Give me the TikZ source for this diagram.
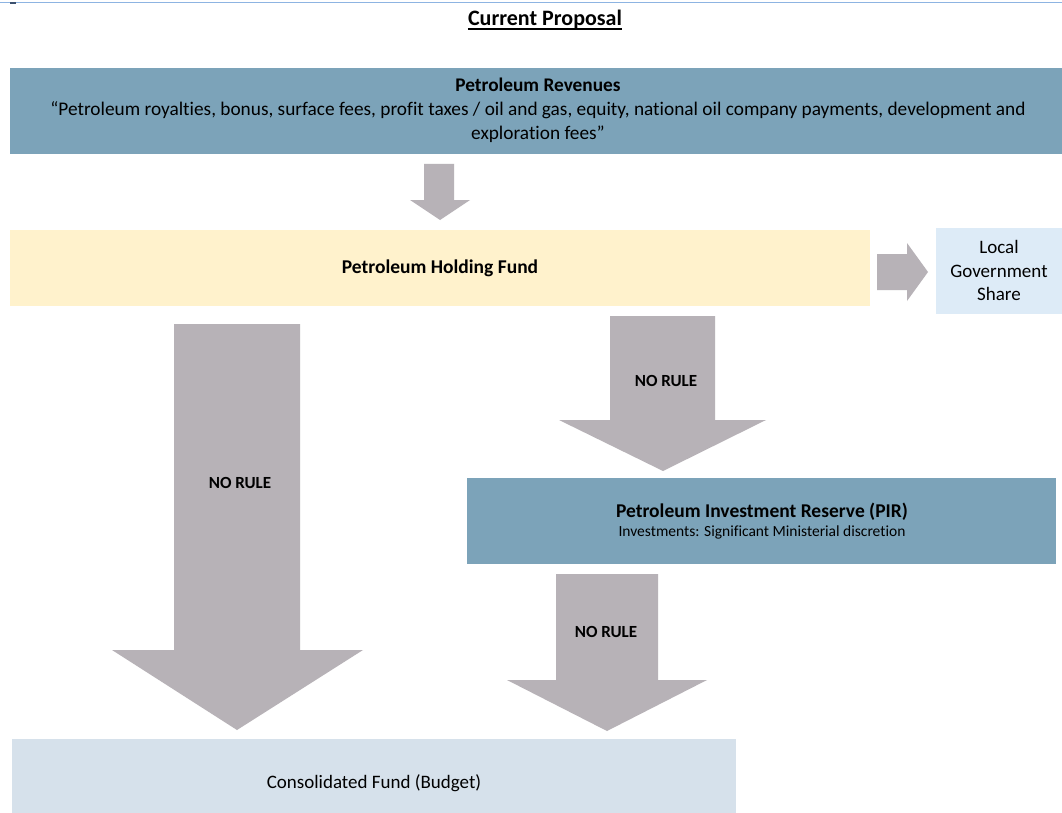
\documentclass[tikz,border=0pt]{standalone}
\usepackage{fontspec}
\setmainfont{Carlito}[Ligatures=NoCommon]
\definecolor{revblue}{RGB}{124,163,185}
\definecolor{holdyellow}{RGB}{255,242,204}
\definecolor{lgblue}{RGB}{221,235,247}
\definecolor{consblue}{RGB}{214,225,235}
\definecolor{arrowgray}{RGB}{183,178,183}
\definecolor{topline}{RGB}{141,180,226}
\definecolor{darkmark}{RGB}{60,80,110}
\begin{document}
\begin{tikzpicture}[x=1pt,y=-1pt,
  box/.style={draw=none,inner sep=0pt,outer sep=0pt,align=center},
  blockarrow/.style={fill=arrowgray,draw=none},
  lbl/.style={inner sep=0pt,font=\fontsize{17}{20}\selectfont\bfseries},
  txt/.style={inner sep=0pt,align=center}]
\useasboundingbox (0,0) rectangle (1062,813);
\fill[white] (0,0) rectangle (1062,813);
\draw[topline,line width=1.2pt] (0,2.5) -- (1062,2.5);
\fill[darkmark] (10,2) rectangle (16,4.5);

% title
\node[txt,font=\fontsize{22}{24}\selectfont\bfseries] (title) at (545,20) {Current Proposal};
\draw[line width=1.6pt] ([yshift=-3pt]title.base west) -- ([yshift=-3pt]title.base east);

% boxes
\node[box,fill=revblue,minimum width=1052pt,minimum height=86pt] (rev) at (536,111) {};
\node[txt,font=\fontsize{19.3}{24}\selectfont] (revt) at (538,110)
  {\textbf{Petroleum Revenues}\\
   “Petroleum royalties, bonus, surface fees, profit taxes / oil and gas, equity, national oil company payments, development and\\
   exploration fees”};

\node[box,fill=holdyellow,minimum width=860pt,minimum height=76pt,
  font=\fontsize{19.5}{23}\selectfont\bfseries] (hold) at (440,268) {Petroleum Holding Fund};

\node[box,fill=lgblue,minimum width=126pt,minimum height=86pt,
  font=\fontsize{19}{23.5}\selectfont] (lgs) at (999,270.5) {Local\\Government\\Share};

\node[box,fill=revblue,minimum width=589pt,minimum height=86pt] (pir) at (761.5,521) {};
\node[txt,font=\fontsize{19.5}{22}\selectfont\bfseries] (pirt) at (762,512)
  {Petroleum Investment Reserve (PIR)};
\node[txt,font=\fontsize{15.5}{18}\selectfont] (pirs) at (762,532)
  {Investments: Significant Ministerial discretion};

\node[box,fill=consblue,minimum width=724pt,minimum height=88pt,
  font=\fontsize{19}{23}\selectfont] (cons) at (374,783) {Consolidated Fund (Budget)};

% block arrows
\fill[blockarrow] (424,164) -- (454,164) -- (454,200) -- (470,200) -- (440,220)
  -- (410,200) -- (424,200) -- cycle;
\fill[blockarrow] (877,254) -- (907,254) -- (907,243) -- (928,272) -- (907,301)
  -- (907,290) -- (877,290) -- cycle;
\fill[blockarrow] (174,324) -- (300,324) -- (300,650) -- (363,650) -- (237,730)
  -- (112,650) -- (174,650) -- cycle;
\fill[blockarrow] (610,316) -- (715,316) -- (715,420) -- (766,420) -- (663,471)
  -- (559,420) -- (610,420) -- cycle;
\fill[blockarrow] (556,574) -- (658,574) -- (658,680) -- (707,680) -- (607,731)
  -- (507,680) -- (556,680) -- cycle;

% arrow labels
\node[lbl] (nr1) at (240,483) {NO RULE};
\node[lbl] (nr2) at (666,381) {NO RULE};
\node[lbl] (nr3) at (606,632) {NO RULE};
\end{tikzpicture}
\end{document}
